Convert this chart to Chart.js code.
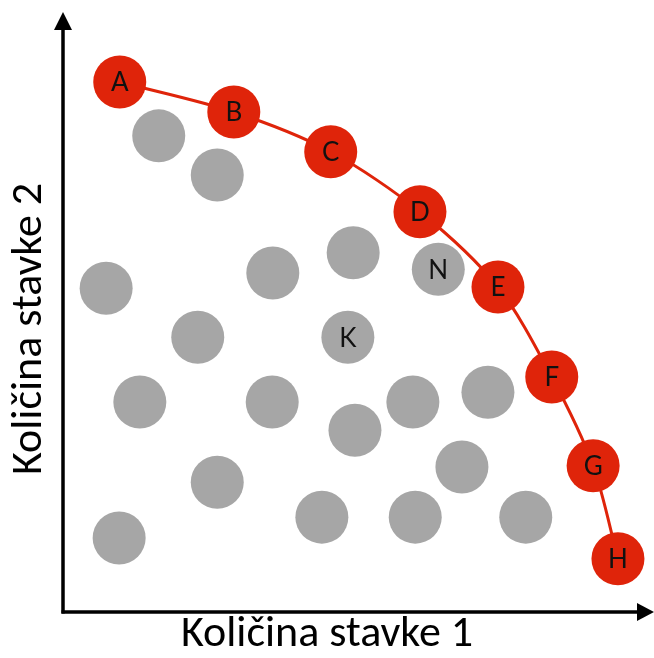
<!DOCTYPE html>
<html>
<head>
<meta charset="utf-8">
<script src="https://cdn.jsdelivr.net/npm/chart.js@4.4.0/dist/chart.umd.min.js"></script>
<style>
  html, body { margin: 0; padding: 0; background: #fff; }
  #wrap { width: 654px; height: 658px; }
</style>
</head>
<body>
<div id="wrap"><canvas id="grafik"></canvas></div>
<script>
// tocke na granici (crvene)
var granicaOznake = ['A', 'B', 'C', 'D', 'E', 'F', 'G', 'H'];
var granicaX = [9.6, 28.9, 45.3, 60.4, 73.6, 82.7, 89.7, 93.9];
var granicaY = [86.6, 81.7, 75.2, 65.4, 53.1, 38.4, 23.9, 8.7];

// ostale tocke (sive)
var ostaleOznake = ['', '', '', '', '', 'N', 'K', '', '', '', '', '', '', '', '', '', '', '', ''];
var ostaleX = [16.2, 26.1, 7.3, 35.5, 49.1, 63.5, 48.2, 22.8, 13.0, 35.4, 26.1, 9.5, 43.8, 71.9, 59.2, 49.4, 67.5, 59.6, 78.3];
var ostaleY = [77.8, 71.4, 52.9, 55.4, 58.7, 56.0, 44.9, 44.9, 34.3, 34.3, 21.2, 12.1, 15.5, 35.9, 34.3, 29.7, 23.7, 15.5, 15.5];

var naslovX = 'Količina stavke 1';
var naslovY = 'Količina stavke 2';

var crvena = '#df240a';
var siva = '#a6a6a6';
var fontNaslov = "Carlito, 'Liberation Sans', sans-serif";

function tocke(xs, ys) {
    var out = [];
    for (var i = 0; i < xs.length; i++) {
        out.push({x: xs[i], y: ys[i]});
    }
    return out;
}

/* osi sa strelicama */
var osiPlugin = {
    id: 'osi',
    beforeDatasetsDraw: function(chart) {
        var ctx = chart.ctx;
        var a = chart.chartArea;
        ctx.save();
        ctx.strokeStyle = '#000';
        ctx.fillStyle = '#000';
        ctx.lineWidth = 3.5;
        // y os
        ctx.beginPath();
        ctx.moveTo(a.left, a.bottom + 1.5);
        ctx.lineTo(a.left, a.top + 26);
        ctx.stroke();
        ctx.beginPath();
        ctx.moveTo(a.left, a.top + 12);
        ctx.lineTo(a.left - 9, a.top + 30);
        ctx.lineTo(a.left + 9, a.top + 30);
        ctx.closePath();
        ctx.fill();
        // x os
        ctx.beginPath();
        ctx.moveTo(a.left - 1.5, a.bottom);
        ctx.lineTo(a.right - 12, a.bottom);
        ctx.stroke();
        ctx.beginPath();
        ctx.moveTo(a.right, a.bottom);
        ctx.lineTo(a.right - 17, a.bottom - 9);
        ctx.lineTo(a.right - 17, a.bottom + 9);
        ctx.closePath();
        ctx.fill();
        ctx.restore();
    }
};

/* slova na tockama */
var oznakePlugin = {
    id: 'oznake',
    afterDatasetsDraw: function(chart) {
        var ctx = chart.ctx;
        ctx.save();
        ctx.fillStyle = '#111';
        ctx.font = "26px Lato, 'Noto Sans', sans-serif";
        ctx.textAlign = 'center';
        ctx.textBaseline = 'middle';
        chart.data.datasets.forEach(function(ds, di) {
            var meta = chart.getDatasetMeta(di);
            meta.data.forEach(function(el, i) {
                var t = ds.oznake[i];
                if (t) ctx.fillText(t, el.x, el.y + 1);
            });
        });
        ctx.restore();
    }
};

var ctx = document.getElementById('grafik');
var grafik = new Chart(ctx, {
    type: 'scatter',
    data: {
        datasets: [
            {
                label: 'Granica',
                data: tocke(granicaX, granicaY),
                oznake: granicaOznake,
                showLine: true,
                tension: 0.3,
                borderColor: crvena,
                borderWidth: 3,
                backgroundColor: crvena,
                pointBackgroundColor: crvena,
                pointBorderWidth: 0,
                pointRadius: 26.5,
                pointHoverRadius: 26.5,
                order: 0,
                clip: false
            },
            {
                label: 'Ostale',
                data: tocke(ostaleX, ostaleY),
                oznake: ostaleOznake,
                backgroundColor: siva,
                pointBackgroundColor: siva,
                pointBorderWidth: 0,
                pointRadius: 26.5,
                pointHoverRadius: 26.5,
                order: 1,
                clip: false
            }
        ]
    },
    options: {
        responsive: true,
        maintainAspectRatio: false,
        animation: false,
        events: [],
        layout: { padding: 0, autoPadding: false },
        scales: {
            x: { type: 'linear', min: 0, max: 100, display: false },
            y: { type: 'linear', min: 0, max: 100, display: false }
        },
        plugins: {
            legend: { display: false },
            tooltip: { enabled: false },
            title: {
                display: true,
                text: naslovX,
                position: 'bottom',
                color: '#000',
                font: { family: fontNaslov, size: 44, weight: 'normal', lineHeight: 1 },
                padding: { top: 1, bottom: 1 }
            },
            subtitle: {
                display: true,
                text: naslovY,
                position: 'left',
                color: '#000',
                font: { family: fontNaslov, size: 44, weight: 'normal', lineHeight: 1 },
                padding: { top: 8, bottom: 11 }
            }
        }
    },
    plugins: [osiPlugin, oznakePlugin]
});
</script>
</body>
</html>
